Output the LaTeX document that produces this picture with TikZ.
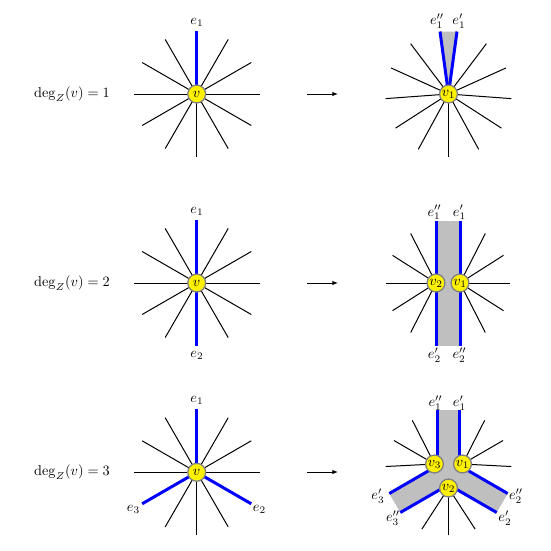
\documentclass[tikz,border=0pt]{standalone}
\usetikzlibrary{arrows.meta,calc}
\begin{document}
\begin{tikzpicture}[x=0.7pt,y=-0.7pt,
  spoke/.style={line width=0.7pt, black},
  bluel/.style={line width=2.1pt, blue},
  vert/.style={circle, fill=yellow, draw=gray, line width=0.9pt, minimum size=12.5pt, inner sep=0pt},
  band/.style={fill=black!25},
  lab/.style={inner sep=0pt},
  arr/.style={line width=0.7pt, -{Latex[length=4pt,width=3.2pt]}}]
\useasboundingbox (0,0) rectangle (551,551);

% ---------- degree labels and arrows ----------
\node (d1) at (72,94) {$\deg_Z(v) = 1$};
\node (d2) at (72,283) {$\deg_Z(v) = 2$};
\node (d3) at (72,472) {$\deg_Z(v) = 3$};
\foreach \y/\n in {94/1,283/2,472/3}{
  \coordinate (as\n) at (307,\y);
  \coordinate (ae\n) at (338,\y);
  \draw[arr] (as\n) -- (ae\n);
}

% ---------- row 1 left ----------
\coordinate (c1) at (196.7,94);
\foreach \a in {0,30,60,120,150,180,210,240,270,300,330}
  \draw[spoke] (c1) -- ++(-\a:63);
\draw[bluel] (c1) -- ++(0,-63);
\node[vert] (v) at (c1) {$v$};
\node (l1) at (197,22) {$e_1$};

% ---------- row 1 right ----------
\coordinate (c1r) at (448.5,94);
\coordinate (r1a) at (440,31.5);
\coordinate (r1b) at (457,31.5);
\fill[band] (c1r) -- (r1a) -- (r1b) -- cycle;
\foreach \a in {127,155.6,184.2,212.8,241.4,270,298.6,327.2,355.8,24.4,53}
  \draw[spoke] (c1r) -- ++(-\a:63);
\draw[bluel] (c1r) -- (r1a);
\draw[bluel] (c1r) -- (r1b);
\node[vert] (v1a) at (c1r) {$v_1$};
\node (l1a) at (437,21) {$e_1''$};
\node (l1b) at (459,21) {$e_1'$};

% ---------- row 2 left ----------
\coordinate (c2) at (196.7,283);
\foreach \a in {0,30,60,120,150,180,210,240,300,330}
  \draw[spoke] (c2) -- ++(-\a:63);
\draw[bluel] (c2) -- ++(0,-63);
\draw[bluel] (c2) -- ++(0,63);
\node[vert] (vb) at (c2) {$v$};
\node (l2a) at (197,211) {$e_1$};
\node (l2b) at (197,355) {$e_2$};

% ---------- row 2 right ----------
\coordinate (c2r) at (448,283);
\coordinate (p2a) at (436,220.5);
\coordinate (p2b) at (460,220.5);
\coordinate (p2c) at (460,345.5);
\coordinate (p2d) at (436,345.5);
\coordinate (q2) at (436,283);
\coordinate (q1) at (460,283);
\fill[band] (p2a) rectangle (p2c);
\foreach \a in {127,153.5,180,206.5,233}
  \draw[spoke] (q2) -- ($(c2r)+(-\a:62)$);
\foreach \a in {-53,-26.5,0,26.5,53}
  \draw[spoke] (q1) -- ($(c2r)+(-\a:62)$);
\draw[bluel] (p2a) -- (p2d);
\draw[bluel] (p2b) -- (p2c);
\node[vert] (v2b) at (q2) {$v_2$};
\node[vert] (v1b) at (q1) {$v_1$};
\node (l2c) at (434.5,212.5) {$e_1''$};
\node (l2d) at (459.5,212.5) {$e_1'$};
\node (l2e) at (434.5,355) {$e_2'$};
\node (l2f) at (459.5,355) {$e_2''$};

% ---------- row 3 left ----------
\coordinate (c3) at (196.7,472.3);
\foreach \a in {0,30,60,120,150,180,240,270,300}
  \draw[spoke] (c3) -- ++(-\a:63);
\foreach \a in {90,210,330}
  \draw[bluel] (c3) -- ++(-\a:63);
\node[vert] (vc) at (c3) {$v$};
\node (l3a) at (197,400) {$e_1$};
\node (l3b) at (133.5,509) {$e_3$};
\node (l3c) at (259.5,509) {$e_2$};

% ---------- row 3 right ----------
\coordinate (c3r) at (448.5,472);
\coordinate (t1) at (437.5,410);
\coordinate (t2) at (459.5,410);
\coordinate (i12) at (459.5,465.6);
\coordinate (i23) at (448.5,484.7);
\coordinate (i31) at (437.5,465.6);
\coordinate (t3) at (507.7,493.5);
\coordinate (t4) at (496.7,512.5);
\coordinate (t5) at (400.3,512.5);
\coordinate (t6) at (389.3,493.5);
\fill[band] (t1) -- (t2) -- (i12) -- (t3) -- (t4) -- (i23) -- (t5) -- (t6) -- (i31) -- cycle;
\coordinate (w3) at (434.5,464);
\coordinate (w1) at (462.5,464);
\coordinate (w2) at (448.5,488);
\foreach \a in {125,150,175}
  \draw[spoke] (w3) -- ($(c3r)+(-\a:63)$);
\foreach \a in {55,30,5}
  \draw[spoke] (w1) -- ($(c3r)+(-\a:63)$);
\foreach \a in {245,270,295}
  \draw[spoke] (w2) -- ($(c3r)+(-\a:63)$);
\draw[bluel] (i31) -- (t1);
\draw[bluel] (i12) -- (t2);
\draw[bluel] (i12) -- (t3);
\draw[bluel] (i23) -- (t4);
\draw[bluel] (i23) -- (t5);
\draw[bluel] (i31) -- (t6);
\node[vert] (v3c) at (w3) {$v_3$};
\node[vert] (v1c) at (w1) {$v_1$};
\node[vert] (v2c) at (w2) {$v_2$};
\node (l3d) at (435.5,403) {$e_1''$};
\node (l3e) at (459.5,403) {$e_1'$};
\node (l3f) at (378,496) {$e_3'$};
\node (l3g) at (393,518) {$e_3''$};
\node (l3h) at (516,496) {$e_2''$};
\node (l3i) at (505,518) {$e_2'$};
\end{tikzpicture}
\end{document}
